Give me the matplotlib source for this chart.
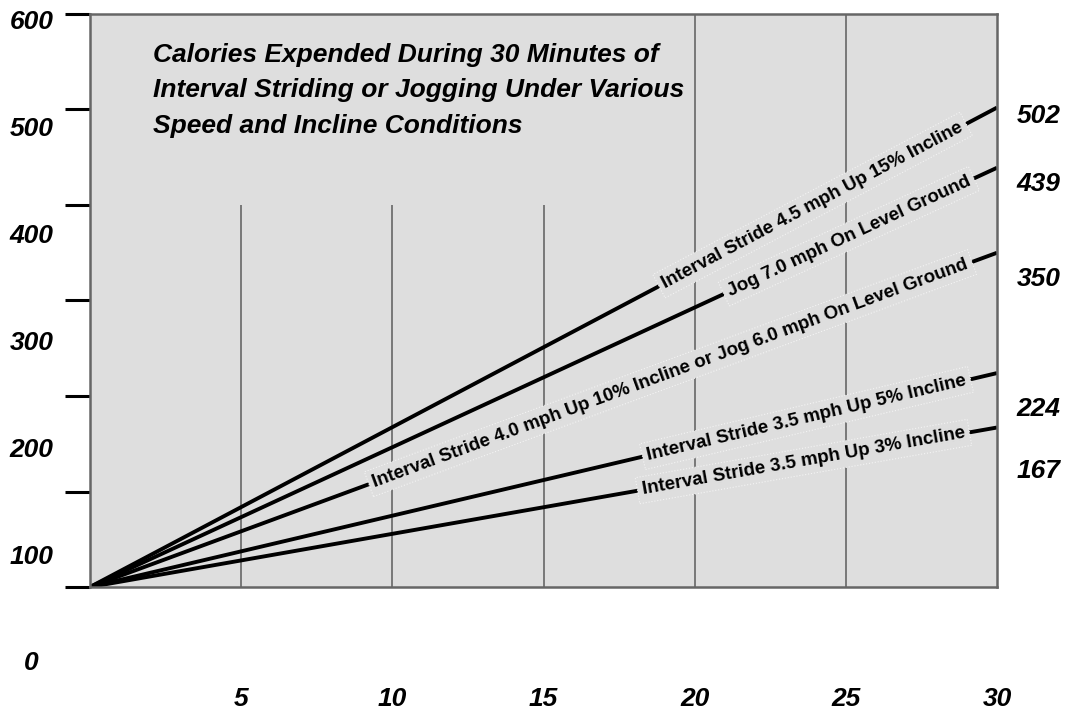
import numpy as np
import matplotlib.pyplot as plt

# calories burned after 30 minutes for each activity
activities = [
    'Interval Stride 4.5 mph Up 15% Incline',
    'Jog 7.0 mph On Level Ground',
    'Interval Stride 4.0 mph Up 10% Incline or Jog 6.0 mph On Level Ground',
    'Interval Stride 3.5 mph Up 5% Incline',
    'Interval Stride 3.5 mph Up 3% Incline',
]
calories_30 = [502, 439, 350, 224, 167]
minutes = [0, 30]
x_ticks = [5, 10, 15, 20, 25, 30]
y_ticks = [0, 100, 200, 300, 400, 500, 600]

# where the text sits along each line (minutes) and end label offsets (points)
label_x = [23.9, 25.1, 19.2, 23.7, 23.6]
end_offsets = [-6, -12, -19, -26, -31]

plt.rcParams['font.family'] = ['Liberation Sans', 'DejaVu Sans']

W, H = 1067, 711
fig = plt.figure(figsize=(W / 100, H / 100), dpi=100)
ax = fig.add_axes([90 / W, 1 - 587 / H, 907 / W, 573 / H])
ax.set_xlim(0, 30)
ax.set_ylim(0, 600)
ax.set_facecolor('#dedede')
for s in ax.spines.values():
    s.set_color('#666666')
    s.set_linewidth(1.8)

# grid lines: short ones for first three, full for 20 and 25
ax.vlines([5, 10, 15], 0, 400, color='#666666', lw=1.2, zorder=1)
ax.vlines([20, 25], 0, 600, color='#666666', lw=1.2, zorder=1)

for name, v, lx, off in zip(activities, calories_30, label_x, end_offsets):
    ax.plot(minutes, [0, v], color='black', lw=2.8, zorder=2, solid_capstyle='butt')
    ang = np.degrees(np.arctan2(v, 30))
    ax.text(lx, v * lx / 30, name, rotation=ang, transform_rotates_text=True,
            rotation_mode='anchor', ha='center', va='center', fontsize=13.5,
            fontweight='bold', zorder=3,
            bbox=dict(boxstyle='square,pad=0.25', facecolor='#dedede',
                      edgecolor='#f4f4f4', linestyle=':', lw=0.8))
    ax.annotate(str(v), xy=(30, v), xytext=(30, off), textcoords='offset points',
                ha='center', va='center', fontsize=19, fontweight='bold',
                fontstyle='italic', annotation_clip=False)

ax.text(0.07, 0.95, 'Calories Expended During 30 Minutes of\n'
        'Interval Striding or Jogging Under Various\n'
        'Speed and Incline Conditions', transform=ax.transAxes,
        ha='left', va='top', fontsize=19, fontweight='bold', fontstyle='italic',
        linespacing=1.62)

# y ticks on the main axes (marks only)
ax.set_yticks(y_ticks)
ax.set_yticklabels([])
ax.tick_params(axis='y', direction='out', length=18, width=2.2, color='black')
ax.set_xticks(x_ticks)
ax.set_xticklabels([str(t) for t in x_ticks], fontsize=19, fontweight='bold',
                   fontstyle='italic')
ax.tick_params(axis='x', length=0, pad=72)

# the value labels of the y axis sit on a wider spacing than the marks
lab = fig.add_axes([90 / W, 1 - 661 / H, 907 / W, 642 / H])
lab.set_frame_on(False)
lab.patch.set_alpha(0)
lab.set_ylim(0, 600)
lab.set_xticks([])
lab.set_yticks(y_ticks)
lab.set_yticklabels([str(t) for t in y_ticks], fontsize=19, fontweight='bold',
                    fontstyle='italic')
lab.tick_params(axis='y', length=0, pad=42)
for t in lab.get_yticklabels():
    t.set_ha('center')

fig.savefig('out.png', dpi=100)
